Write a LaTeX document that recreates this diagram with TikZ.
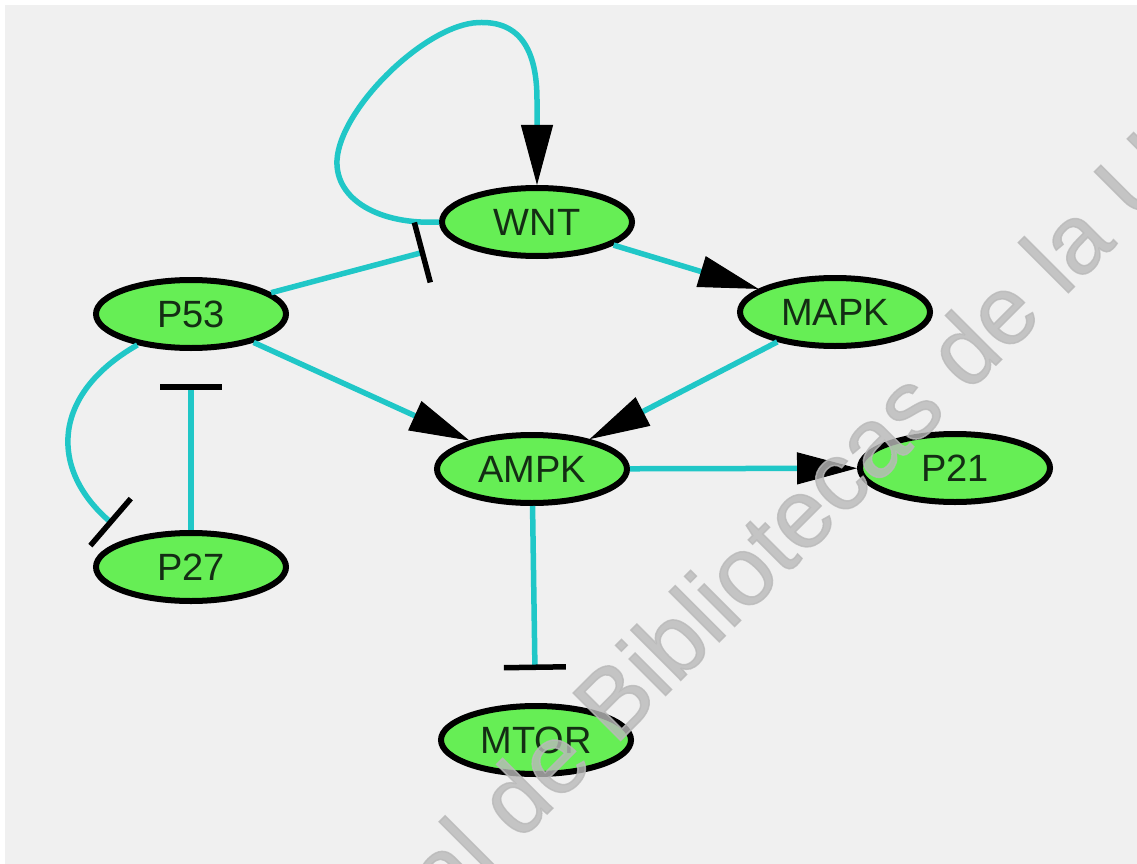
\documentclass[tikz,border=0pt]{standalone}
\usepackage{fontspec}
\setmainfont{Liberation Sans}
\newfontfamily\wmfont[FakeBold=1.5]{Liberation Sans}
\usetikzlibrary{arrows.meta,shapes.geometric}
\definecolor{bgc}{HTML}{F0F0F0}
\definecolor{edgec}{RGB}{32,199,199}
\definecolor{nodec}{RGB}{102,238,85}
\definecolor{txtc}{RGB}{20,45,20}
\definecolor{wmc}{RGB}{185,185,185}
\begin{document}
\begin{tikzpicture}[x=1pt,y=1pt,
  gene/.style={ellipse, draw=black, line width=6pt, fill=nodec,
    minimum width=190pt, minimum height=68pt, inner sep=0pt,
    text=txtc, font=\fontsize{38}{40}\selectfont},
  conn/.style={draw=edgec, line width=5.5pt},
  act/.style={conn, -{Triangle[length=60pt,width=32pt,line width=1pt,color=black]}},
  inh/.style={conn, -{Bar[width=62pt,line width=5.5pt,color=black]}, shorten >=33pt}]
\useasboundingbox (0,0) rectangle (1137,-864);
\clip (0,0) rectangle (1137,-864);
\fill[white] (0,0) rectangle (1137,-864);
\fill[bgc] (5,-5) rectangle (1137,-864);

% nodes
\node[gene] (WNT)  at (537,-222) {WNT};
\node[gene] (P53)  at (191,-314) {P53};
\node[gene] (MAPK) at (835,-312) {MAPK};
\node[gene] (AMPK) at (532,-469) {AMPK};
\node[gene] (P21)  at (955,-468) {P21};
\node[gene] (P27)  at (191,-567) {P27};
\node[gene] (MTOR) at (536,-740) {MTOR};

% connectors
\draw[act] (WNT.west) .. controls (380,-225) and (335,-200) .. (337,-160)
  .. controls (340,-110) and (420,-30) .. (473,-23)
  .. controls (520,-18) and (537,-50) .. (537,-100) -- (WNT.north);
\draw[act] (WNT) -- (MAPK);
\draw[inh] (P53) -- (WNT);
\draw[act] (P53) -- (AMPK);
\draw[act] (MAPK) -- (AMPK);
\draw[act] (AMPK) -- (P21);
\draw[inh] (AMPK) -- (MTOR);
\draw[inh] (P27) -- (P53);
\draw[inh, shorten >=22pt] (P53.210) .. controls (50,-395) and (50,-470) .. (P27.155);

% watermark
\node[rotate=45, anchor=base west, inner sep=0pt, text=wmc, opacity=0.8,
  font=\wmfont\fontsize{97.6}{98}\selectfont] (wm) at (446,-915) {al de Bibliotecas de la U};
\end{tikzpicture}
\end{document}
